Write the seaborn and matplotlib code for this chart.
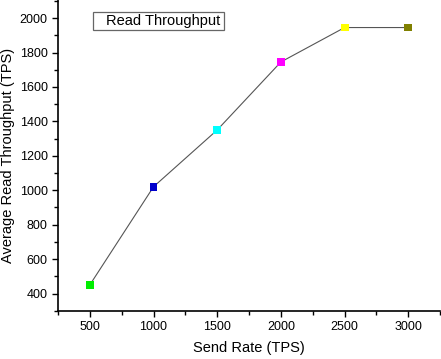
import numpy as np
import pandas as pd
import matplotlib
matplotlib.use("Agg")
import matplotlib.pyplot as plt
from matplotlib.patches import Rectangle
from matplotlib.ticker import MultipleLocator
import seaborn as sns

# Data
send_rate = [500, 1000, 1500, 2000, 2500, 3000]
read_tps = [450, 1020, 1350, 1745, 1945, 1945]
point_colors = ["#00ee00", "#0000cc", "#00ffff", "#ff00ff", "#ffff00", "#808000"]

df = pd.DataFrame({"rate": send_rate, "tps": read_tps, "idx": [str(r) for r in send_rate]})

sns.set_style("ticks")
plt.rcParams["font.family"] = ["Liberation Sans", "DejaVu Sans"]
plt.rcParams["text.color"] = "black"
plt.rcParams["axes.labelcolor"] = "black"

fig = plt.figure(figsize=(4.41, 3.59), dpi=100)
ax = fig.add_axes([0.1315, 0.1345, 0.8665, 0.8655])

sns.lineplot(data=df, x="rate", y="tps", color="#555555", linewidth=0.8, ax=ax)
sns.scatterplot(data=df, x="rate", y="tps", hue="idx", palette=point_colors,
                marker="s", s=32, edgecolor="none", legend=False, ax=ax, zorder=3)

ax.set_xlim(250, 3250)
ax.set_ylim(300, 2105)
ax.xaxis.set_major_locator(MultipleLocator(500))
ax.xaxis.set_minor_locator(MultipleLocator(250))
ax.yaxis.set_major_locator(MultipleLocator(200))
ax.yaxis.set_minor_locator(MultipleLocator(100))
ax.tick_params(which="major", direction="out", length=4, width=1, labelsize=9,
               colors="black", labelcolor="black")
ax.tick_params(which="minor", direction="out", length=3, width=1, colors="black")

for s in ["top", "right"]:
    ax.spines[s].set_visible(False)
for s in ["left", "bottom"]:
    ax.spines[s].set_linewidth(1.2)
    ax.spines[s].set_color("black")

ax.set_xlabel("Send Rate (TPS)", fontsize=10.5, labelpad=6, color="black")
ax.set_ylabel("Average Read Throughput (TPS)", fontsize=10.5, labelpad=3, color="black")

# legend-style box
ax.add_patch(Rectangle((0.0916, 0.9035), 0.343, 0.058, transform=ax.transAxes,
                       fill=False, edgecolor="#666666", linewidth=0.9, clip_on=False))
ax.text(0.126, 0.932, "Read Throughput", transform=ax.transAxes,
        fontsize=10.5, va="center", ha="left", color="black")

fig.savefig("out.png", dpi=100)
